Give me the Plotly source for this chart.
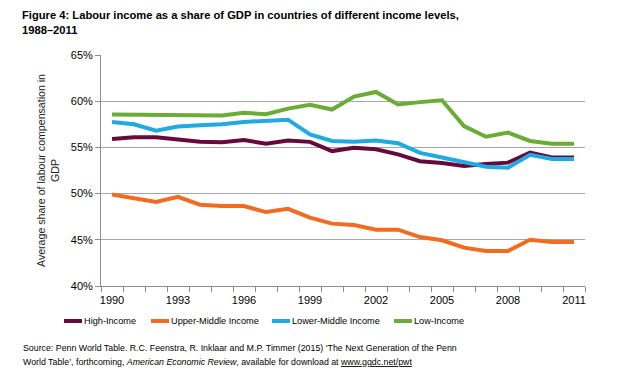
import plotly.graph_objects as go

years = list(range(1990, 2012))
high_income = [55.9, 56.1, 56.1, 55.9, 55.6, 55.55, 55.8, 55.4, 55.75, 55.6, 54.6, 54.95,
               54.8, 54.25, 53.5, 53.3, 53.0, 53.2, 53.35, 54.45, 53.9, 53.9]
upper_middle = [49.9, 49.5, 49.1, 49.65, 48.8, 48.65, 48.65, 48.0, 48.35, 47.4, 46.75, 46.6,
                46.1, 46.1, 45.3, 44.95, 44.15, 43.8, 43.8, 45.0, 44.75, 44.75]
lower_middle = [57.75, 57.5, 56.8, 57.25, 57.4, 57.5, 57.75, 57.85, 58.0, 56.4, 55.7, 55.6,
                55.75, 55.45, 54.4, 53.9, 53.45, 52.9, 52.8, 54.2, 53.75, 53.75]
low_income = [58.55, 58.55, 58.55, 58.55, 58.55, 58.45, 58.75, 58.6, 59.2, 59.6, 59.1, 60.5,
              61.0, 59.65, 59.9, 60.1, 57.3, 56.15, 56.6, 55.7, 55.4, 55.4]

series_names = ["High-Income", "Upper-Middle Income", "Lower-Middle Income", "Low-Income"]
series_values = [high_income, upper_middle, lower_middle, low_income]
series_colors = ["#660a3c", "#f36b21", "#21a9e1", "#6aac36"]

y_ticks = [40, 45, 50, 55, 60, 65]
x_label_years = [1990, 1993, 1996, 1999, 2002, 2005, 2008, 2011]

FONT = "Liberation Sans, Arial, sans-serif"

# page body adds an 8px offset; plot area in screen px: x 101-585, y 55-286
PL, PR, PT, PB = 101, 585, 55, 286
def px(xs):
    return (xs - PL) / (PR - PL)
def py(ys):
    return (PB - ys) / (PB - PT)

fig = go.Figure()
for name, vals, col in zip(series_names, series_values, series_colors):
    fig.add_trace(go.Scatter(x=years, y=vals, name=name, mode="lines",
                             line=dict(color=col, width=4), showlegend=False))

fig.update_layout(
    width=640, height=381,
    margin=dict(l=PL - 8, r=640 - (PR - 8), t=PT - 8, b=381 - (PB - 8)),
    paper_bgcolor="white", plot_bgcolor="white",
    font=dict(family=FONT, size=11, color="#000000"),
    showlegend=False,
)

fig.update_yaxes(
    range=[40, 65], tickvals=y_ticks, ticktext=[f"{v}%" for v in y_ticks],
    showgrid=True, gridcolor="#a6a6a6", gridwidth=1,
    showline=True, linecolor="#8c8c8c", linewidth=1,
    ticks="outside", ticklen=5, tickcolor="#8c8c8c",
    zeroline=False,
    title=dict(text="Average share of labour compensation in<br>GDP",
               font=dict(size=10.6, family=FONT, color="#222222"), standoff=9),
    tickfont=dict(size=11),
)
fig.update_xaxes(
    range=[1989.5, 2011.5], tickvals=x_label_years, ticktext=[str(y) for y in x_label_years],
    showgrid=False, showline=True, linecolor="#8c8c8c", linewidth=1,
    ticks="outside", ticklen=4, tickcolor="rgba(0,0,0,0)", zeroline=False,
    minor=dict(ticks="outside", tick0=1989.5, dtick=1, ticklen=5, tickcolor="#8c8c8c", showgrid=False),
    tickfont=dict(size=11, color="#000000"),
)

# title
fig.add_annotation(
    text="<b>Figure 4: Labour income as a share of GDP in countries of different income levels,<br>1988–2011</b>",
    xref="paper", yref="paper", x=px(21), y=py(8), xanchor="left", yanchor="top",
    align="left", showarrow=False, borderpad=0,
    font=dict(family=FONT, size=11.2, color="#000000"))

# legend (drawn manually to match the compact swatches)
legend_swatch_x = [64, 151, 272, 394]
legend_y = 321
for name, col, sx in zip(series_names, series_colors, legend_swatch_x):
    fig.add_shape(type="line", xref="paper", yref="paper",
                  x0=px(sx), x1=px(sx + 18), y0=py(legend_y), y1=py(legend_y),
                  line=dict(color=col, width=4))
    fig.add_annotation(text=name, xref="paper", yref="paper", x=px(sx + 18), y=py(legend_y),
                       xanchor="left", yanchor="middle", showarrow=False,
                       font=dict(family=FONT, size=9.2, color="#000000"))

# source
source_lines = [
    "Source: Penn World Table. R.C. Feenstra, R. Inklaar and M.P. Timmer (2015) ‘The Next Generation of the Penn",
    "World Table’, forthcoming, <i>American Economic Review</i>, available for download at "
    "<span style='text-decoration:underline'>www.ggdc.net/pwt</span>",
]
for line, cy in zip(source_lines, [348, 362]):
    fig.add_annotation(text=line, xref="paper", yref="paper", x=px(21), y=py(cy),
                       xanchor="left", yanchor="middle", align="left", showarrow=False,
                       font=dict(family=FONT, size=8.8, color="#000000"))

fig.write_html("out.html")
